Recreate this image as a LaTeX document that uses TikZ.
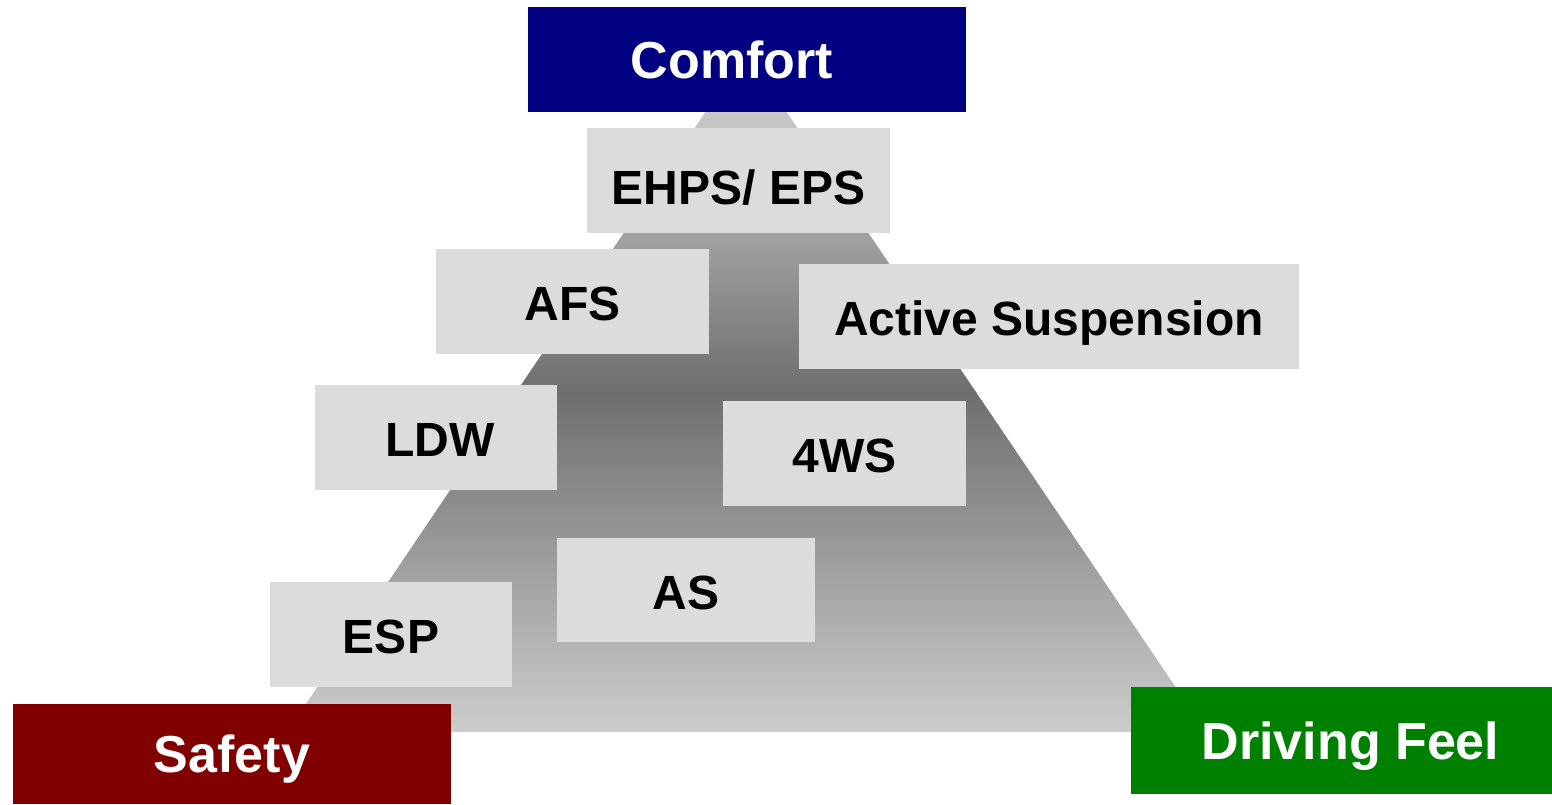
\documentclass[tikz,border=0pt]{standalone}
\usepackage{fontspec}
\setmainfont{Liberation Sans}
\begin{document}
\begin{tikzpicture}[x=1pt,y=-1pt,
  graybox/.style={fill={rgb,255:red,220;green,220;blue,220}, draw=none, inner sep=0pt,
    font=\fontsize{48}{48}\selectfont\bfseries, text=black, text height=38pt, text depth=0pt},
  colbox/.style={draw=none, inner sep=0pt,
    font=\fontsize{52}{52}\selectfont\bfseries, text=white, text height=37pt, text depth=0pt}]
\definecolor{comfortblue}{RGB}{0,0,128}
\definecolor{safetyred}{RGB}{128,0,0}
\definecolor{feelgreen}{RGB}{0,128,0}
\definecolor{tritop}{RGB}{220,220,220}
\definecolor{trimid}{RGB}{110,110,110}
\definecolor{tribot}{RGB}{205,205,205}
\useasboundingbox (0,0) rectangle (1552,804);
% pyramid, upper and lower halves of the shading
\shade[top color=tritop, bottom color=trimid]
  (746,52) -- (976.3,392.5) -- (515.9,392.5) -- cycle;
\shade[top color=trimid, bottom color=tribot]
  (516.6,391.5) -- (975.6,391.5) -- (1206,732) -- (287,732) -- cycle;
% boxes
\node[colbox, fill=comfortblue, minimum width=438pt, minimum height=105pt] (comfort) at (747,59.5) {\hspace*{-30pt}Comfort};
\node[graybox, minimum width=303pt, minimum height=105pt] (ehps) at (738.5,180.5) {\raisebox{-5pt}{EHPS/ EPS}};
\node[graybox, minimum width=273pt, minimum height=105pt] (afs) at (572.5,301.5) {AFS};
\node[graybox, minimum width=500pt, minimum height=105pt] (active) at (1049,316.5) {Active Suspension};
\node[graybox, minimum width=242pt, minimum height=105pt] (ldw) at (436,437.5) {\hspace*{8pt}LDW};
\node[graybox, minimum width=243pt, minimum height=105pt] (fws) at (844.5,453.5) {4WS};
\node[graybox, minimum width=258pt, minimum height=104pt] (as) at (686,590) {AS};
\node[graybox, minimum width=242pt, minimum height=105pt] (esp) at (391,634.5) {ESP};
\node[colbox, fill=safetyred, minimum width=438pt, minimum height=100pt] (safety) at (232,753.5) {Safety};
\node[colbox, fill=feelgreen, minimum width=421pt, minimum height=107pt] (feel) at (1341.5,740.5) {\hspace*{18pt}Driving Feel};
\end{tikzpicture}
\end{document}
